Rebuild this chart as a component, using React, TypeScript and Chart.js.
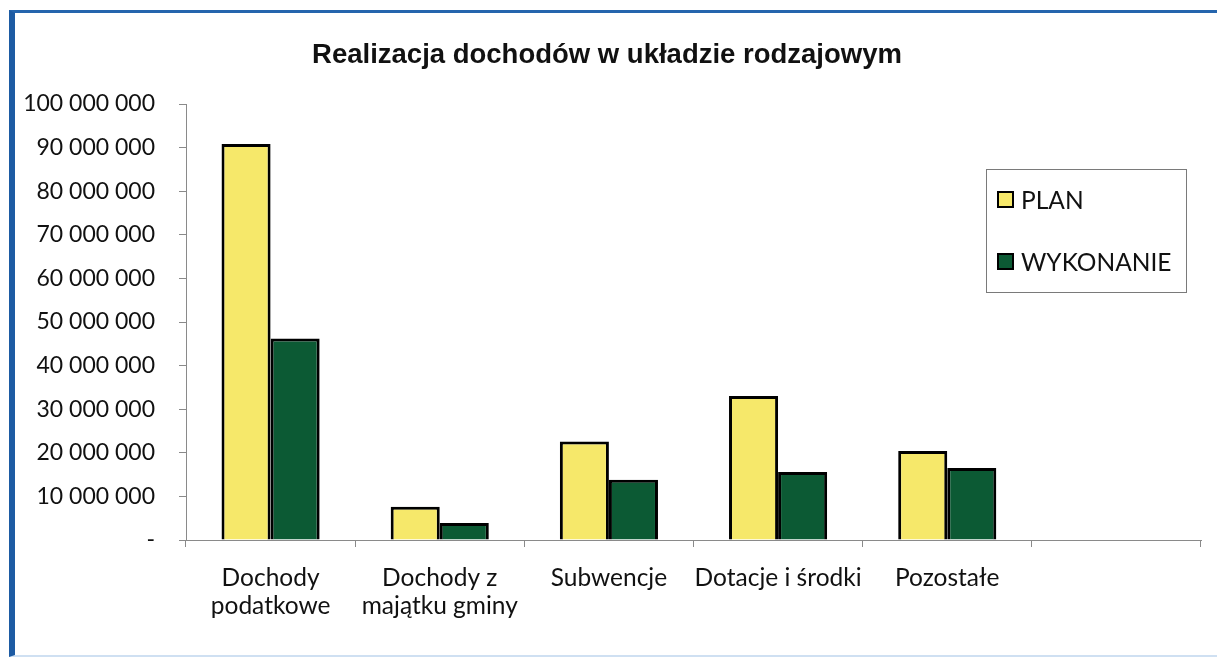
import React, { useEffect, useRef } from "react";
import { Chart, registerables } from "chart.js";

Chart.register(...registerables);

const chartTitle = "Realizacja dochodów w układzie rodzajowym";
const categories: (string | string[])[] = [
  ["Dochody", "podatkowe"],
  ["Dochody z", "majątku gminy"],
  "Subwencje",
  "Dotacje i środki",
  "Pozostałe",
  "",
];
const seriesNames = ["PLAN", "WYKONANIE"];
const planValues = [90800000, 7600000, 22600000, 33000000, 20400000, null];
const wykonanieValues = [46200000, 3900000, 13800000, 15600000, 16500000, null];
const yMin = 0;
const yMax = 100000000;
const yStep = 10000000;

const PLAN_COLOR = "#f6e86a";
const WYK_COLOR = "#0c5a34";
const FONT = "Lato";

function formatTick(v: number): string {
  if (v === 0) return "-";
  return Math.round(v)
    .toString()
    .replace(/\B(?=(\d{3})+(?!\d))/g, " ");
}

const titlePlugin = {
  id: "customTitle",
  afterDraw(chart: any) {
    const ctx = chart.ctx;
    ctx.save();
    ctx.font = "bold 27.5px 'Liberation Sans', Arial, sans-serif";
    ctx.fillStyle = "#111";
    ctx.textAlign = "center";
    ctx.textBaseline = "middle";
    ctx.fillText(chartTitle, 607, 55);
    ctx.restore();
  },
};

const legendPlugin = {
  id: "customLegend",
  afterDraw(chart: any) {
    const ctx = chart.ctx;
    ctx.save();
    ctx.strokeStyle = "#7a7a7a";
    ctx.lineWidth = 1;
    ctx.strokeRect(986.5, 169.5, 200, 123);
    const rows = [200, 262];
    chart.data.datasets.forEach((ds: any, i: number) => {
      const cy = rows[i];
      ctx.fillStyle = ds.backgroundColor;
      ctx.fillRect(998, cy - 8, 15, 15);
      ctx.strokeStyle = "#000";
      ctx.lineWidth = 2;
      ctx.strokeRect(998, cy - 8, 15, 15);
      ctx.fillStyle = "#111";
      ctx.font = `24.5px ${FONT}`;
      ctx.textAlign = "left";
      ctx.textBaseline = "middle";
      ctx.fillText(ds.label, 1021, cy + 1);
    });
    ctx.restore();
  },
};

export default function App() {
  const canvasRef = useRef<HTMLCanvasElement | null>(null);

  useEffect(() => {
    if (!canvasRef.current) return;
    const chart = new Chart(canvasRef.current, {
      type: "bar",
      data: {
        labels: categories,
        datasets: [
          {
            label: seriesNames[0],
            data: planValues,
            backgroundColor: PLAN_COLOR,
            borderColor: "#000",
            borderWidth: 3,
            categoryPercentage: 0.58,
            barPercentage: 1,
          },
          {
            label: seriesNames[1],
            data: wykonanieValues,
            backgroundColor: WYK_COLOR,
            borderColor: "#000",
            borderWidth: 3,
            categoryPercentage: 0.58,
            barPercentage: 1,
          },
        ],
      },
      options: {
        animation: false,
        responsive: true,
        maintainAspectRatio: false,
        layout: { padding: { top: 104, right: 16, left: 0, bottom: 0 } },
        plugins: {
          legend: { display: false },
          title: { display: false },
          tooltip: { enabled: false },
        },
        scales: {
          x: {
            offset: true,
            grid: {
              offset: true,
              drawOnChartArea: false,
              drawTicks: true,
              tickLength: 7,
              color: "#8a8a8a",
            },
            border: { color: "#8a8a8a", width: 1 },
            ticks: {
              color: "#111",
              font: { family: FONT, size: 24.5, lineHeight: 1.14 },
              padding: 17,
              maxRotation: 0,
              autoSkip: false,
            },
            afterFit(scale: any) {
              scale.height = 117;
            },
          },
          y: {
            min: yMin,
            max: yMax,
            grid: {
              drawOnChartArea: false,
              drawTicks: true,
              tickLength: 7,
              color: "#8a8a8a",
            },
            border: { color: "#8a8a8a", width: 1 },
            ticks: {
              stepSize: yStep,
              color: "#111",
              font: { family: FONT, size: 23 },
              padding: 24,
              callback: (v: any) => formatTick(Number(v)),
            },
            afterFit(scale: any) {
              scale.width = 186;
            },
          },
        },
      },
      plugins: [titlePlugin, legendPlugin],
    });
    return () => chart.destroy();
  }, []);

  return (
    <div
      style={{
        position: "fixed",
        left: 0,
        top: 0,
        width: 1217,
        height: 657,
        background: "#fff",
      }}
    >
      <canvas ref={canvasRef} />
      <div
        style={{
          position: "absolute",
          left: 9,
          top: 10,
          right: 0,
          bottom: 0,
          borderLeft: "6px solid #1d5ba3",
          borderTop: "3px solid #2565ad",
          borderBottom: "2px solid #cfe0f2",
          pointerEvents: "none",
        }}
      />
    </div>
  );
}
